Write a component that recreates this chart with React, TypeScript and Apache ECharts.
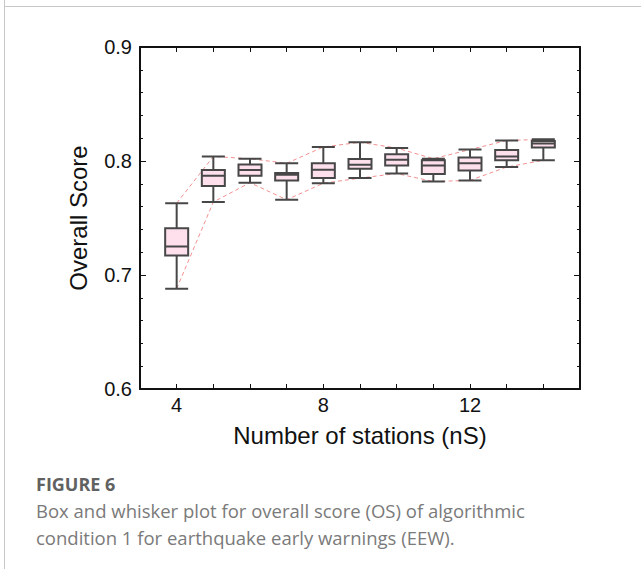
import React, { useEffect, useRef } from "react";
import * as echarts from "echarts";

const stations = [4, 5, 6, 7, 8, 9, 10, 11, 12, 13, 14];
const whiskerMin = [0.688, 0.764, 0.781, 0.766, 0.7805, 0.785, 0.789, 0.782, 0.783, 0.7947, 0.8006];
const q1 = [0.717, 0.778, 0.787, 0.783, 0.785, 0.7933, 0.796, 0.7886, 0.7916, 0.8006, 0.8118];
const median = [0.725, 0.787, 0.792, 0.788, 0.7924, 0.7968, 0.801, 0.796, 0.798, 0.804, 0.8153];
const q3 = [0.741, 0.792, 0.797, 0.7895, 0.798, 0.8018, 0.806, 0.8006, 0.803, 0.8097, 0.8175];
const whiskerMax = [0.763, 0.804, 0.802, 0.798, 0.8123, 0.8164, 0.8114, 0.802, 0.81, 0.818, 0.819];
const xLabels = [4, 8, 12];

const captionTitle = "FIGURE 6";
const captionLines = [
  "Box and whisker plot for overall score (OS) of algorithmic",
  "condition 1 for earthquake early warnings (EEW).",
];

export default function App() {
  const ref = useRef<HTMLDivElement>(null);
  useEffect(() => {
    if (!ref.current) return;
    const chart = echarts.init(ref.current, null, { renderer: "svg" });
    const font = "'Liberation Sans', Arial, sans-serif";
    const axisLine = { show: true, lineStyle: { color: "#111", width: 2 } };
    chart.setOption({
      animation: false,
      backgroundColor: "#fff",
      grid: { left: 140, top: 47, width: 440, height: 342, containLabel: false },
      xAxis: [
        {
          type: "value",
          min: 3,
          max: 15,
          interval: 1,
          position: "bottom",
          axisLine,
          splitLine: { show: false },
          axisTick: { inside: true, length: 5, lineStyle: { color: "#111", width: 1 } },
          axisLabel: {
            margin: 6,
            fontSize: 20,
            color: "#111",
            fontFamily: font,
            formatter: (v: number) => (xLabels.includes(v) ? String(v) : ""),
          },
          name: "Number of stations (nS)",
          nameLocation: "middle",
          nameGap: 34,
          nameTextStyle: { fontSize: 24, color: "#111", fontFamily: font },
        },
        {
          type: "value",
          min: 3,
          max: 15,
          interval: 1,
          position: "top",
          axisLine,
          splitLine: { show: false },
          axisTick: { inside: true, length: 5, lineStyle: { color: "#111", width: 1 } },
          axisLabel: { show: false },
        },
      ],
      yAxis: [
        {
          type: "value",
          min: 0.6,
          max: 0.9,
          interval: 0.1,
          position: "left",
          axisLine,
          splitLine: { show: false },
          axisTick: { inside: true, length: 6, lineStyle: { color: "#111", width: 1 } },
          minorTick: { show: true, splitNumber: 5, length: 3, lineStyle: { color: "#111", width: 1 } },
          axisLabel: {
            margin: 8,
            fontSize: 20,
            color: "#111",
            fontFamily: font,
            formatter: (v: number) => v.toFixed(1),
          },
          name: "Overall Score",
          nameLocation: "middle",
          nameGap: 50,
          nameTextStyle: { fontSize: 24, color: "#111", fontFamily: font },
        },
        {
          type: "value",
          min: 0.6,
          max: 0.9,
          interval: 0.1,
          position: "right",
          axisLine,
          splitLine: { show: false },
          axisTick: { inside: true, length: 6, lineStyle: { color: "#111", width: 1 } },
          minorTick: { show: true, splitNumber: 5, length: 3, lineStyle: { color: "#111", width: 1 } },
          axisLabel: { show: false },
        },
      ],
      series: [
        {
          type: "line",
          xAxisIndex: 0,
          yAxisIndex: 0,
          data: stations.map((s, i) => [s, whiskerMax[i]]),
          showSymbol: false,
          symbol: "none",
          lineStyle: { type: [4, 3], color: "#f29090", width: 1 },
          z: 1,
        },
        {
          type: "line",
          xAxisIndex: 0,
          yAxisIndex: 0,
          data: stations.map((s, i) => [s, whiskerMin[i]]),
          showSymbol: false,
          symbol: "none",
          lineStyle: { type: [4, 3], color: "#f29090", width: 1 },
          z: 1,
        },
        {
          type: "boxplot",
          xAxisIndex: 0,
          yAxisIndex: 0,
          boxWidth: [23, 23],
          data: stations.map((s, i) => [s, whiskerMin[i], q1[i], median[i], q3[i], whiskerMax[i]]),
          itemStyle: { color: "#fde0ec", borderColor: "#474747", borderWidth: 2 },
          z: 3,
        },
      ],
      graphic: [
        { type: "line", shape: { x1: 4.5, y1: 0, x2: 4.5, y2: 569 }, style: { stroke: "#c8c8c8", lineWidth: 1 } },
        { type: "line", shape: { x1: 4, y1: 6.5, x2: 641, y2: 6.5 }, style: { stroke: "#c8c8c8", lineWidth: 1 } },
        {
          type: "text",
          left: 36,
          top: 475,
          style: { text: captionTitle, fontSize: 18, fontWeight: "bold", fill: "#616161", fontFamily: "'Open Sans', sans-serif" },
        },
        {
          type: "text",
          left: 36,
          top: 497,
          style: {
            text: captionLines.join("\n"),
            fontSize: 18.5,
            lineHeight: 27,
            fill: "#7a7a7a",
            fontFamily: "'Open Sans', sans-serif",
          },
        },
      ],
    });
    return () => chart.dispose();
  }, []);
  return (
    <div
      ref={ref}
      style={{ position: "fixed", left: 0, top: 0, width: 641, height: 569, background: "#fff" }}
    />
  );
}
